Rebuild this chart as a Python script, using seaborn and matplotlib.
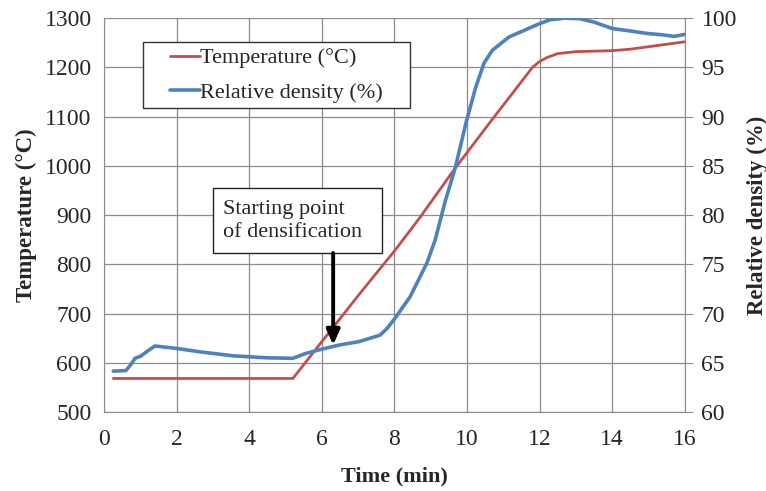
import numpy as np
import pandas as pd
import matplotlib
matplotlib.use("Agg")
import matplotlib.pyplot as plt
from matplotlib.patches import Rectangle
import seaborn as sns

# temperature curve (min, °C)
temp_time = [0.25, 1.0, 2.0, 3.0, 4.0, 5.2, 6.0, 7.05, 8.02, 8.7, 9.67, 10.68,
             11.3, 11.8, 12.0, 12.2, 12.5, 13.0, 13.5, 14.0, 14.5, 15.0, 15.5, 16.0]
temp_val = [568, 568, 568, 568, 568, 568, 643, 741, 829, 895, 995, 1093,
            1152, 1200, 1212, 1220, 1228, 1232, 1233, 1234, 1237, 1242, 1247, 1252]

# relative density curve (min, %)
dens_time = [0.25, 0.6, 0.75, 0.85, 1.0, 1.2, 1.4, 2.0, 2.65, 3.56, 4.48, 5.2, 5.56,
             6.02, 6.48, 7.03, 7.6, 7.8, 8.02, 8.43, 8.89, 9.12, 9.39, 9.67, 9.99,
             10.24, 10.47, 10.7, 11.16, 11.6, 12.0, 12.3, 12.7, 13.1, 13.5, 14.0,
             14.5, 14.95, 15.4, 15.7, 16.0]
dens_val = [64.15, 64.2, 64.9, 65.45, 65.65, 66.2, 66.7, 66.45, 66.1, 65.7, 65.5,
            65.45, 65.95, 66.4, 66.8, 67.15, 67.8, 68.5, 69.55, 71.7, 75.1, 77.45,
            81.3, 84.75, 89.65, 93.0, 95.45, 96.75, 98.1, 98.8, 99.45, 99.85, 100.0,
            99.95, 99.6, 98.95, 98.7, 98.45, 98.3, 98.15, 98.35]

x_ticks = [0, 2, 4, 6, 8, 10, 12, 14, 16]
t_ticks = [500, 600, 700, 800, 900, 1000, 1100, 1200, 1300]
d_ticks = [60, 65, 70, 75, 80, 85, 90, 95, 100]

temp_df = pd.DataFrame({"time": temp_time, "temp": temp_val})
dens_df = pd.DataFrame({"time": dens_time, "dens": dens_val})

sns.set_style("white")
plt.rcParams['font.family'] = ['Liberation Serif', 'DejaVu Serif']

red = "#c0504d"
blue = "#4f81bd"
grid_c = "#8c8c8c"

fig = plt.figure(figsize=(7.66, 4.91), dpi=100)
ax = fig.add_axes([0.136, 0.161, 0.758, 0.802])
ax2 = ax.twinx()

sns.lineplot(data=temp_df, x="time", y="temp", ax=ax, color=red, lw=2.0,
             label="Temperature (°C)", legend=False)
sns.lineplot(data=dens_df, x="time", y="dens", ax=ax2, color=blue, lw=2.6,
             label="Relative density (%)", legend=False)

ax.set_xlim(0, 16)
ax.set_ylim(500, 1300)
ax2.set_ylim(60, 100)
ax.set_xticks(x_ticks)
ax.set_yticks(t_ticks)
ax2.set_yticks(d_ticks)
ax.grid(True, color=grid_c, lw=0.9)
ax.set_axisbelow(True)

for a in (ax, ax2):
    for s in a.spines.values():
        s.set_visible(False)
ax.spines['left'].set_visible(True)
ax.spines['left'].set_color(grid_c)
ax.spines['bottom'].set_visible(True)
ax.spines['bottom'].set_color(grid_c)
ax2.spines['right'].set_visible(True)
ax2.spines['right'].set_color(grid_c)

ax.tick_params(axis='y', labelsize=17, length=0, pad=9)
ax.tick_params(axis='x', labelsize=17, length=0, pad=12)
ax2.tick_params(axis='y', labelsize=17, length=6, color=grid_c, pad=6)

ax.set_xlabel("Time (min)", fontsize=16, fontweight="bold", labelpad=12)
ax.set_ylabel("Temperature (°C)", fontsize=16.5, fontweight="bold")
ax2.set_ylabel("Relative density (%)", fontsize=16.5, fontweight="bold")
ax.yaxis.set_label_coords(-0.116, 0.5)
ax2.yaxis.set_label_coords(1.106, 0.5)

# legend box
ax2.add_patch(Rectangle((0.0671, 0.7716), 0.4596, 0.1674, transform=ax2.transAxes,
                        fc="white", ec="#333333", lw=1.0, zorder=5))
h1, l1 = ax.get_legend_handles_labels()
h2, l2 = ax2.get_legend_handles_labels()
leg = ax2.legend(h1 + h2, l1 + l2, loc="center", bbox_to_anchor=(0.297, 0.855),
                 fontsize=16, frameon=False, handlelength=1.35,
                 handletextpad=0.0, borderpad=0.0, labelspacing=0.62)
leg.set_zorder(6)

# annotation box + arrow
ax2.add_patch(Rectangle((0.1876, 0.4036), 0.2909, 0.1649, transform=ax2.transAxes,
                        fc="white", ec="#222222", lw=1.0, zorder=5))
ax2.text(0.2048, 0.484, "Starting point\nof densification", transform=ax2.transAxes,
         fontsize=16, ha="left", va="center", linespacing=1.3, zorder=6)
ax2.annotate("", xy=(6.31, 66.8), xytext=(6.31, 0.4036),
             textcoords=("data", "axes fraction"),
             arrowprops=dict(arrowstyle="-|>,head_width=0.4,head_length=0.9",
                             color="black", lw=2.8, shrinkA=0, shrinkB=0),
             zorder=7)

fig.savefig("out.png", dpi=100)
